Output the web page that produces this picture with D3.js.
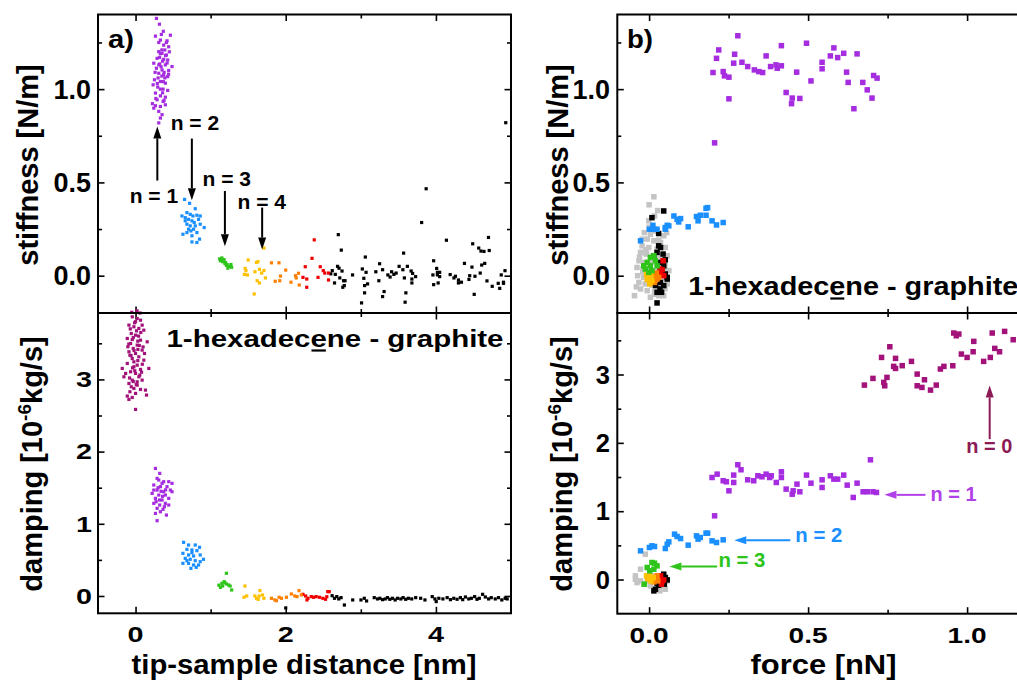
<!DOCTYPE html>
<html><head><meta charset="utf-8">
<script src="https://cdn.jsdelivr.net/npm/d3@7"></script>
<style>
body{margin:0;background:#fff}
svg{display:block}
text{font-family:"Liberation Sans",Arial,sans-serif;font-weight:bold}
</style>
</head><body>
<svg id="c" width="1017" height="681"></svg>
<script>
// ---------------- DATA ----------------
// tick values
const distTicks = [0, 2, 4];
const distMinor = [1, 3];
const stiffTicks = [0, 0.5, 1.0];
const stiffMinor = [0.25, 0.75, 1.25];
const dampTicks = [0, 1, 2, 3];
const dampMinor = [0.5, 1.5, 2.5, 3.5];
const forceTicks = [0, 0.5, 1.0];
const forceMinor = [0.25, 0.75];

// a) stiffness vs tip-sample distance
const stiffDistN1 = [[0.278,1.379],[0.318,1.348],[0.265,1.284],[0.344,1.293],[0.464,1.289],[0.331,1.263],[0.42,1.259],[0.375,1.236],[0.441,1.227],[0.309,1.201],[0.353,1.192],[0.411,1.183],[0.287,1.165],[0.375,1.16],[0.428,1.156],[0.243,1.139],[0.322,1.135],[0.397,1.13],[0.486,1.121],[0.278,1.112],[0.353,1.103],[0.441,1.10],[0.309,1.085],[0.375,1.076],[0.428,1.067],[0.252,1.05],[0.331,1.041],[0.397,1.032],[0.234,1.023],[0.296,1.011],[0.367,1.0],[0.428,0.993],[0.265,0.979],[0.331,0.964],[0.397,0.957],[0.287,0.943],[0.367,0.934],[0.225,0.922],[0.265,0.911],[0.331,0.907],[0.397,0.916],[0.243,0.898],[0.309,0.881],[0.353,0.863],[0.331,0.845],[0.309,0.819],[0.36,1.15],[0.34,1.12],[0.38,1.09],[0.30,1.06],[0.40,1.18],[0.35,1.21],[0.32,1.17],[0.42,1.14],[0.29,1.03],[0.36,0.98],[0.39,1.06],[0.33,1.00],[0.27,0.95],[0.41,1.25],[0.37,1.31],[0.44,1.08],[0.26,1.09],[0.31,1.25],[0.38,0.94],[0.45,1.20],[0.35,1.07],[0.31,1.13],[0.39,1.21],[0.33,1.19],[0.37,1.04]];
const stiffDistN2 = [[0.653,0.409],[0.72,0.388],[0.795,0.359],[0.684,0.338],[0.728,0.329],[0.764,0.32],[0.817,0.324],[0.662,0.311],[0.706,0.302],[0.751,0.294],[0.781,0.285],[0.839,0.302],[0.861,0.276],[0.914,0.258],[0.684,0.276],[0.728,0.267],[0.773,0.249],[0.631,0.222],[0.684,0.231],[0.751,0.214],[0.817,0.231],[0.852,0.196],[0.751,0.181],[0.706,0.249],[0.795,0.267],[0.737,0.24],[0.662,0.294],[0.861,0.32],[0.618,0.32],[0.817,0.178]];
const stiffDistN3 = [[1.12,0.09],[1.15,0.095],[1.18,0.085],[1.13,0.08],[1.16,0.075],[1.2,0.07],[1.22,0.06],[1.25,0.05],[1.28,0.045],[1.23,0.04],[1.19,0.065],[1.27,0.06],[1.17,0.085],[1.21,0.055]];
const stiffDistN4 = [[1.71,0.148],[1.50,0.084],[1.61,0.071],[1.63,0.075],[1.46,0.039],[1.47,0.027],[1.59,0.021],[1.65,0.034],[1.71,0.028],[1.68,0.014],[1.45,0.007],[1.49,0.004],[1.62,-0.027],[1.65,-0.039],[1.73,-0.012],[1.58,-0.098]];
const stiffDistN5 = [[1.81,0.069],[1.91,0.069],[2.0,0.03],[1.93,-0.002],[1.92,-0.027],[1.86,-0.03],[2.07,-0.035],[2.13,0.0],[2.17,0.013],[2.14,-0.012],[2.18,-0.05]];
const stiffDistN6 = [[2.38,0.192],[2.35,0.093],[2.26,0.048],[2.23,-0.009],[2.28,-0.018],[2.28,-0.062],[2.43,-0.009],[2.46,0.048],[2.50,0.027],[2.52,0.014],[2.57,0.014],[2.57,-0.023]];
const stiffDistBulk = [[2.70,0.22],[2.74,0.137],[2.69,0.05],[2.71,0.04],[2.62,0.027],[2.66,0.007],[2.75,0.025],[2.60,0.01],[2.72,-0.012],[2.65,-0.039],[2.77,-0.027],[2.79,-0.027],[2.78,-0.053],[2.76,-0.062],[2.89,0.004],[3.06,0.10],[3.02,0.036],[3.07,0.018],[3.04,-0.014],[3.05,-0.053],[3.09,-0.044],[3.05,-0.092],[3.01,-0.146],[3.25,0.064],[3.29,0.032],[3.20,0.021],[3.24,-0.027],[3.31,-0.085],[3.29,-0.112],[3.36,0.004],[3.39,-0.007],[3.41,0.021],[3.44,0.007],[3.47,0.014],[3.51,0.05],[3.56,0.032],[3.57,0.121],[3.62,0.05],[3.58,-0.012],[3.67,0.025],[3.69,0.012],[3.68,-0.018],[3.73,-0.005],[3.68,-0.039],[3.60,-0.092],[3.59,-0.142],[3.81,0.285],[3.87,0.466],[3.97,0.08],[4.01,0.039],[4.02,0.018],[4.05,0.018],[4.02,0.004],[3.96,0.004],[4.05,-0.005],[3.97,-0.048],[4.03,-0.039],[4.14,0.19],[4.19,0.006],[4.24,-0.012],[4.26,-0.003],[4.30,-0.023],[4.30,-0.039],[4.34,-0.035],[4.38,0.066],[4.45,0.0],[4.48,0.046],[4.52,-0.003],[4.44,-0.02],[4.51,-0.1],[4.49,0.171],[4.57,0.148],[4.60,0.132],[4.64,0.13],[4.65,0.066],[4.61,0.057],[4.59,0.014],[4.70,0.205],[4.71,0.135],[4.68,-0.028],[4.75,-0.057],[4.83,-0.041],[4.85,-0.068],[4.90,-0.041],[4.90,-0.035],[4.87,0.004],[4.92,0.027],[4.93,0.82]];

// a) damping vs tip-sample distance
const dampDistN0 = [[-0.044,3.867],[0.022,3.844],[0.066,3.821],[-0.088,3.752],[-0.022,3.729],[0.044,3.706],[0.11,3.682],[-0.057,3.636],[0,3.613],[-0.11,3.567],[0.066,3.544],[0.155,3.521],[-0.066,3.498],[0.022,3.475],[-0.031,3.429],[0.088,3.406],[-0.088,3.383],[0,3.359],[0.044,3.313],[-0.044,3.29],[0.11,3.267],[-0.11,3.221],[0.022,3.198],[-0.022,3.175],[-0.177,3.152],[0.066,3.138],[0.177,3.152],[-0.066,3.106],[0,3.083],[-0.155,3.036],[0.044,3.036],[-0.044,2.99],[0.088,2.99],[-0.088,2.944],[0.022,2.921],[-0.022,2.875],[0.066,2.861],[0.132,2.852],[-0.075,2.829],[0,2.806],[-0.11,2.769],[-0.044,2.75],[0.146,2.783],[-0.088,2.723],[0.022,2.967],[-0.132,3.083],[-0.022,3.244],[-0.075,3.336],[0.031,3.415],[-0.044,3.553],[0.013,3.673],[0.088,3.752],[-0.013,3.784],[-0.102,3.452],[0.119,3.359],[0.057,3.06],[-0.057,2.898],[0,2.584],[-0.05,3.93],[0.02,3.95],[0.06,3.92],[-0.03,3.58],[0.05,3.47],[-0.06,3.33],[0.03,3.26],[-0.01,3.12],[0.07,3.65],[-0.08,3.02],[0.01,2.93],[0.09,3.21],[-0.02,3.40],[0.04,3.60],[-0.07,3.70],[0.08,3.10],[-0.04,3.16],[0.03,3.53],[-0.09,3.49],[0.10,3.45],[0.0,3.80],[-0.03,2.97]];
const dampDistN1 = [[0.265,1.767],[0.322,1.698],[0.287,1.629],[0.375,1.583],[0.442,1.583],[0.486,1.56],[0.243,1.537],[0.331,1.514],[0.419,1.514],[0.287,1.467],[0.375,1.444],[0.464,1.467],[0.221,1.421],[0.309,1.398],[0.397,1.398],[0.265,1.352],[0.353,1.329],[0.442,1.352],[0.243,1.283],[0.322,1.26],[0.397,1.283],[0.287,1.214],[0.366,1.2],[0.265,1.144],[0.331,1.167],[0.411,1.121],[0.287,1.043],[0.486,1.444],[0.243,1.467],[0.353,1.56],[0.309,1.606],[0.384,1.237],[0.274,1.306],[0.442,1.26],[0.34,1.45],[0.30,1.50],[0.36,1.38],[0.40,1.47],[0.32,1.33]];
const dampDistN2 = [[0.64,0.743],[0.706,0.706],[0.795,0.706],[0.852,0.674],[0.684,0.646],[0.751,0.637],[0.817,0.628],[0.631,0.591],[0.706,0.568],[0.773,0.554],[0.861,0.568],[0.662,0.521],[0.728,0.508],[0.795,0.489],[0.905,0.508],[0.631,0.452],[0.706,0.452],[0.773,0.429],[0.839,0.429],[0.737,0.383],[0.808,0.397],[0.684,0.489],[0.751,0.6],[0.861,0.475]];
const dampDistN3 = [[1.21,0.314],[1.15,0.176],[1.18,0.198],[1.21,0.166],[1.24,0.152],[1.26,0.138],[1.16,0.138],[1.28,0.083],[1.19,0.184],[1.11,0.15],[1.13,0.12]];
const dampDistN4 = [[1.457,0.138],[1.444,-0.018],[1.48,0.0],[1.589,0.0],[1.611,-0.032],[1.656,0.074],[1.647,0.0],[1.691,0.014],[1.709,-0.032],[1.634,-0.046]];
const dampDistN5 = [[1.81,-0.032],[1.854,-0.055],[1.876,-0.065],[1.912,-0.018],[1.943,-0.032],[2.009,-0.018],[2.075,0.028],[2.12,0.0],[2.15,-0.009],[2.177,0.074],[2.208,0.014]];
const dampDistN6 = [[2.229,0.023],[2.265,0.0],[2.296,-0.032],[2.34,-0.009],[2.371,-0.018],[2.406,-0.009],[2.45,-0.018],[2.494,-0.032],[2.53,-0.046],[2.56,0.06],[2.283,-0.055],[2.547,-0.01],[2.58,0.06]];
const dampDistBulk = [[2.618,0.004],[2.649,-0.032],[2.68,-0.009],[2.706,-0.041],[2.737,-0.023],[2.781,-0.125],[2.892,-0.055],[3.002,-0.055],[3.046,-0.032],[3.077,-0.069],[3.179,-0.023],[3.223,-0.041],[3.254,-0.032],[3.289,-0.051],[3.325,-0.041],[3.355,-0.023],[3.386,-0.046],[3.422,-0.032],[3.457,-0.055],[3.488,-0.032],[3.532,-0.041],[3.563,-0.023],[3.598,-0.046],[3.633,-0.032],[3.678,-0.041],[3.731,-0.023],[3.797,-0.032],[3.854,-0.055],[3.951,-0.009],[3.987,-0.041],[4.004,-0.078],[4.039,-0.032],[4.093,-0.041],[4.15,-0.023],[4.194,-0.051],[4.238,-0.032],[4.282,-0.046],[4.326,-0.023],[4.357,-0.051],[4.393,-0.014],[4.437,-0.041],[4.472,-0.032],[4.516,-0.009],[4.547,-0.046],[4.578,-0.032],[4.622,0.023],[4.658,-0.014],[4.702,-0.041],[4.737,-0.023],[4.79,-0.041],[4.834,-0.023],[4.878,-0.055],[4.922,-0.032],[4.949,-0.041],[2.0,-0.166]];

// b) stiffness vs force
const stiffForceN1 = [[0.279,1.286],[0.219,1.21],[0.212,1.165],[0.269,1.187],[0.201,1.089],[0.233,1.094],[0.237,1.071],[0.251,1.064],[0.266,1.139],[0.292,1.144],[0.31,1.121],[0.331,1.103],[0.345,1.094],[0.357,1.089],[0.368,1.178],[0.382,1.121],[0.399,1.13],[0.403,1.112],[0.416,1.125],[0.416,1.233],[0.431,0.982],[0.45,0.952],[0.448,0.922],[0.464,1.091],[0.474,0.95],[0.495,1.246],[0.509,1.044],[0.544,1.144],[0.544,1.109],[0.57,1.178],[0.581,1.221],[0.593,1.169],[0.612,1.192],[0.621,1.091],[0.626,1.036],[0.644,0.895],[0.654,1.189],[0.672,1.036],[0.686,0.996],[0.701,0.952],[0.706,1.073],[0.717,1.059],[0.251,0.948],[0.206,0.712]];
const stiffForceN2 = [[-0.027,0.187],[0.001,0.249],[0.012,0.27],[0.015,0.249],[0.025,0.249],[0.051,0.258],[0.057,0.27],[0.062,0.267],[0.051,0.249],[0.078,0.32],[0.088,0.302],[0.093,0.288],[0.099,0.306],[0.123,0.262],[0.149,0.317],[0.154,0.294],[0.161,0.324],[0.179,0.361],[0.184,0.365],[0.179,0.324],[0.198,0.294],[0.212,0.272],[0.233,0.285]];
const stiffForceGray = [[0.015,0.423],[0.027,0.349],[0.017,0.32],[-0.001,0.294],[-0.015,0.231],[0.004,0.222],[0.046,0.214],[-0.006,0.196],[0.015,0.187],[0.036,0.178],[-0.022,0.16],[-0.001,0.151],[0.025,0.142],[0.051,0.151],[-0.027,0.125],[-0.008,0.116],[0.013,0.107],[0.034,0.107],[0.057,0.107],[-0.032,0.08],[-0.015,0.071],[0.006,0.071],[0.03,0.062],[0.051,0.071],[-0.038,0.044],[-0.019,0.036],[0.002,0.032],[0.025,0.027],[0.046,0.032],[0.062,0.027],[-0.036,0.0],[-0.017,-0.009],[0.004,-0.009],[0.027,-0.014],[0.051,-0.009],[-0.032,-0.036],[-0.012,-0.044],[0.009,-0.05],[0.034,-0.05],[0.057,-0.044],[-0.027,-0.071],[-0.006,-0.08],[0.017,-0.085],[0.041,-0.08],[-0.046,-0.107],[0.004,-0.116],[0.03,-0.107],[0.046,-0.107],[0.055,0.231],[-0.022,0.196],[0.0,0.26],[0.02,0.24],[-0.01,0.14],[0.03,0.19],[-0.03,0.10],[0.04,0.09],[-0.02,0.02],[0.05,0.05],[0.01,-0.03],[-0.04,-0.06],[0.02,-0.10],[0.05,-0.07],[-0.01,0.12],[0.0,0.38],[0.035,0.03]];
const stiffForceBulk = [[0.009,0.311],[0.046,0.347],[0.03,0.226],[0.036,0.151],[0.044,0.116],[0.051,0.085],[0.025,0.125],[0.046,0.053],[0.057,-0.009],[0.036,-0.036],[0.02,-0.053],[0.046,-0.053],[0.025,-0.089],[0.025,-0.146],[0.041,0.018],[0.015,0.107],[0.034,0.071],[0.051,0.009],[0.017,-0.027],[0.034,-0.071],[0.039,-0.089],[0.057,-0.018],[0.03,0.16]];
const stiffForceN3 = [[0.004,0.098],[0.015,0.107],[-0.006,0.071],[-0.017,0.053],[0.004,0.053],[0.02,0.08],[0.009,0.027],[-0.012,0.036],[-0.001,0.018],[0.025,0.053]];
const stiffForceN4 = [[-0.008,0.009],[-0.001,-0.009],[0.006,0.004],[-0.006,-0.021],[0.009,-0.027],[0.002,-0.044]];
const stiffForceN5 = [[0.02,0.0],[0.025,-0.018],[0.017,-0.036],[0.03,-0.009],[0.023,0.014]];
const stiffForceN6 = [[0.044,0.08],[0.034,0.036],[0.041,0.032],[0.046,0.0],[0.036,0.009]];

// b) damping vs force
const dampForceN0 = [[0.677,2.845],[0.704,2.943],[0.738,2.885],[0.741,2.835],[0.731,3.25],[0.757,3.406],[0.775,3.236],[0.775,3.089],[0.769,3.119],[0.748,2.958],[0.796,3.129],[0.825,3.192],[0.843,3.006],[0.843,2.835],[0.858,2.811],[0.866,2.923],[0.885,2.772],[0.903,2.845],[0.916,3.08],[0.927,3.119],[0.955,3.128],[0.958,3.607],[0.966,3.567],[0.974,3.592],[0.982,3.299],[1.0,3.25],[1.019,3.333],[1.021,3.485],[1.052,3.192],[1.073,3.25],[1.079,3.607],[1.087,3.382],[1.102,3.333],[1.118,3.631],[1.145,3.509]];
const dampForceN1 = [[0.206,0.932],[0.198,1.493],[0.214,1.542],[0.233,1.445],[0.251,1.298],[0.243,1.43],[0.266,1.42],[0.266,1.528],[0.279,1.679],[0.289,1.606],[0.31,1.459],[0.329,1.445],[0.342,1.518],[0.355,1.503],[0.368,1.542],[0.379,1.493],[0.384,1.518],[0.4,1.42],[0.416,1.576],[0.416,1.493],[0.431,1.323],[0.45,1.249],[0.453,1.298],[0.465,1.396],[0.474,1.284],[0.495,1.528],[0.509,1.41],[0.544,1.347],[0.544,1.459],[0.57,1.518],[0.581,1.469],[0.593,1.469],[0.612,1.528],[0.623,1.381],[0.642,1.201],[0.654,1.41],[0.673,1.284],[0.686,1.284],[0.696,1.752],[0.704,1.284],[0.715,1.274]];
const dampForceN2 = [[-0.027,0.42],[0.001,0.469],[0.009,0.493],[0.017,0.483],[0.051,0.454],[0.057,0.517],[0.062,0.551],[0.08,0.664],[0.088,0.63],[0.099,0.6],[0.123,0.503],[0.149,0.639],[0.154,0.591],[0.161,0.615],[0.179,0.678],[0.184,0.678],[0.198,0.566],[0.212,0.542],[0.233,0.581]];
const dampForceGray = [[-0.012,0.371],[-0.027,0.151],[-0.043,0.005],[-0.027,-0.02],[-0.006,-0.02],[0.015,-0.02],[0.025,0.005],[0.036,-0.044],[0.057,-0.02],[-0.038,-0.044],[-0.017,-0.068],[0.046,-0.093],[0.025,-0.117],[0.004,-0.093],[0.034,-0.166],[0.051,-0.142],[-0.043,0.054],[0.009,0.054]];
const dampForceBulk = [[0.046,0.078],[0.051,0.029],[0.057,-0.005],[0.041,-0.044],[0.03,-0.083],[0.02,-0.142],[0.015,-0.166],[0.048,-0.068],[0.036,-0.005],[0.025,-0.054]];
const dampForceN3 = [[-0.006,0.176],[0.009,0.249],[0.017,0.239],[0.002,0.127],[0.025,0.2],[-0.015,-0.068],[0.015,0.151]];
const dampForceN4 = [[-0.008,0.054],[0.002,0.054],[0.013,0.029],[-0.004,0.005],[0.006,-0.02]];
const dampForceN5 = [[0.02,0.015],[0.027,-0.02],[0.015,-0.034],[0.025,0.054]];
const dampForceN6 = [[0.034,0.029],[0.041,-0.02],[0.046,-0.005],[0.039,-0.068],[0.036,0.054]];

// ---------------- DRAWING ----------------
const C = {
  n0: "#a3127a", n1: "#a62ce0", n2: "#1a8fff", n3: "#2ec41a",
  n4: "#ffc000", n5: "#ff8000", n6: "#ee0000", bulk: "#000000", gray: "#c4c4c4"
};
const svg = d3.select("#c");

function makePanel(x0, x1, y0, y1, xd, yd) {
  return { x0, x1, y0, y1,
    x: d3.scaleLinear().domain(xd).range([x0, x1]),
    y: d3.scaleLinear().domain(yd).range([y1, y0]) };
}
const pA1 = makePanel(98, 511, 14.5, 313, [-0.5, 5], [-0.2, 1.4]);
const pA2 = makePanel(98, 511, 313, 613.3, [-0.5, 5], [-0.24, 3.92]);
const pB1 = makePanel(617.3, 1030.7, 14.5, 313, [-0.1, 1.2], [-0.2, 1.4]);
const pB2 = makePanel(617.3, 1030.7, 313, 613.7, [-0.1, 1.2], [-0.5, 3.9]);

function ticks(p, xMaj, xMin, yMaj, yMin) {
  const g = svg.append("g");
  const specs = [
    [d3.axisBottom(p.x), `translate(0,${p.y1})`, xMaj, xMin],
    [d3.axisTop(p.x), `translate(0,${p.y0})`, xMaj, xMin],
    [d3.axisLeft(p.y), `translate(${p.x0},0)`, yMaj, yMin],
    [d3.axisRight(p.y), `translate(${p.x1},0)`, yMaj, yMin]
  ];
  specs.forEach(([ax, tr, maj, min]) => {
    g.append("g").attr("transform", tr)
      .call(ax.tickValues(maj).tickSize(-6.5).tickFormat(""));
    g.append("g").attr("transform", tr)
      .call(ax.tickValues(min).tickSize(-4).tickFormat(""));
  });
  g.selectAll(".domain").remove();
  g.selectAll(".tick line").attr("stroke", "#000").attr("stroke-width", 1.6);
}
function frame(p) {
  svg.append("rect").attr("x", p.x0).attr("y", p.y0)
    .attr("width", p.x1 - p.x0).attr("height", p.y1 - p.y0)
    .attr("fill", "none").attr("stroke", "#000").attr("stroke-width", 2);
}
function points(p, data, color, size) {
  svg.append("g").selectAll("rect").data(data).join("rect")
    .attr("x", d => p.x(d[0]) - size / 2).attr("y", d => p.y(d[1]) - size / 2)
    .attr("width", size).attr("height", size).attr("fill", color);
}
function yLabels(p, vals, fmt, fs, xRight, tl) {
  const t = svg.append("g").selectAll("text").data(vals).join("text")
    .attr("x", xRight).attr("y", d => p.y(d) + fs * 0.358)
    .attr("text-anchor", "end").attr("font-size", fs).text(d => d3.format(fmt)(d));
  if (tl) t.attr("textLength", d => tl * d3.format(fmt)(d).length).attr("lengthAdjust", "spacingAndGlyphs");
}
function xLabels(p, vals, fmt, fs, base, tl) {
  const t = svg.append("g").selectAll("text").data(vals).join("text")
    .attr("x", d => p.x(d)).attr("y", base)
    .attr("text-anchor", "middle").attr("font-size", fs).text(d => d3.format(fmt)(d));
  if (tl) t.attr("textLength", tl).attr("lengthAdjust", "spacingAndGlyphs");
}
function arrow(p, from, to, color) {
  const x1 = p.x(from[0]), y1 = p.y(from[1]), x2 = p.x(to[0]), y2 = p.y(to[1]);
  const ang = Math.atan2(y2 - y1, x2 - x1), L = 12, W = 4;
  const bx = x2 - L * Math.cos(ang), by = y2 - L * Math.sin(ang);
  svg.append("line").attr("x1", x1).attr("y1", y1).attr("x2", bx).attr("y2", by)
    .attr("stroke", color).attr("stroke-width", 2);
  const nx = -Math.sin(ang) * W, ny = Math.cos(ang) * W;
  svg.append("polygon").attr("points",
    `${x2},${y2} ${bx + nx},${by + ny} ${bx - nx},${by - ny}`).attr("fill", color);
}
function label(p, at, txt, color, fs, anchor, tl) {
  const t = svg.append("text").attr("x", p.x(at[0])).attr("y", p.y(at[1]))
    .attr("font-size", fs).attr("fill", color).attr("text-anchor", anchor).text(txt);
  if (tl) t.attr("textLength", tl).attr("lengthAdjust", "spacingAndGlyphs");
}

// ticks
ticks(pA1, distTicks, distMinor, stiffTicks, stiffMinor);
ticks(pA2, distTicks, distMinor, dampTicks, dampMinor);
ticks(pB1, forceTicks, forceMinor, stiffTicks, stiffMinor);
ticks(pB2, forceTicks, forceMinor, dampTicks, dampMinor);

// panel a) points
points(pA1, stiffDistBulk, C.bulk, 3.2);
points(pA1, stiffDistN6, C.n6, 3.2);
points(pA1, stiffDistN5, C.n5, 3.2);
points(pA1, stiffDistN4, C.n4, 3.2);
points(pA1, stiffDistN3, C.n3, 3.2);
points(pA1, stiffDistN2, C.n2, 3.2);
points(pA1, stiffDistN1, C.n1, 3.2);

points(pA2, dampDistBulk, C.bulk, 3.2);
points(pA2, dampDistN6, C.n6, 3.2);
points(pA2, dampDistN5, C.n5, 3.2);
points(pA2, dampDistN4, C.n4, 3.2);
points(pA2, dampDistN3, C.n3, 3.2);
points(pA2, dampDistN2, C.n2, 3.2);
points(pA2, dampDistN1, C.n1, 3.2);
points(pA2, dampDistN0, C.n0, 3.2);

// panel b) points
points(pB1, stiffForceGray, C.gray, 5.5);
points(pB1, stiffForceBulk, C.bulk, 5.5);
points(pB1, stiffForceN6, C.n6, 5.5);
points(pB1, stiffForceN5, C.n5, 5.5);
points(pB1, stiffForceN4, C.n4, 5.5);
points(pB1, stiffForceN3, C.n3, 5.5);
points(pB1, stiffForceN2, C.n2, 5.5);
points(pB1, stiffForceN1, C.n1, 5.5);

points(pB2, dampForceGray, C.gray, 5.5);
points(pB2, dampForceBulk, C.bulk, 5.5);
points(pB2, dampForceN6, C.n6, 5.5);
points(pB2, dampForceN5, C.n5, 5.5);
points(pB2, dampForceN4, C.n4, 5.5);
points(pB2, dampForceN3, C.n3, 5.5);
points(pB2, dampForceN2, C.n2, 5.5);
points(pB2, dampForceN1, C.n1, 5.5);
points(pB2, dampForceN0, C.n0, 5.5);

// frames
[pA1, pA2, pB1, pB2].forEach(frame);

// tick labels
yLabels(pA1, stiffTicks, ".1f", 27, 91);
yLabels(pA2, dampTicks, "d", 22, 92, 16);
xLabels(pA2, distTicks, "d", 22, 641.5, 16);
yLabels(pB1, stiffTicks, ".1f", 27, 610);
yLabels(pB2, dampTicks, "d", 25.5, 610);
xLabels(pB2, forceTicks, ".1f", 22, 643, 39);

// axis titles
svg.append("text").attr("transform", "translate(38,165) rotate(-90)")
  .attr("text-anchor", "middle").attr("font-size", 29).text("stiffness [N/m]");
svg.append("text").attr("transform", "translate(568,165) rotate(-90)")
  .attr("text-anchor", "middle").attr("font-size", 29).text("stiffness [N/m]");
function dampTitle(x) {
  const t = svg.append("text").attr("transform", `translate(${x},464) rotate(-90)`)
    .attr("text-anchor", "middle").attr("font-size", 29);
  t.append("tspan").text("damping [10");
  t.append("tspan").attr("dy", -11).attr("font-size", 19).text("-6");
  t.append("tspan").attr("dy", 11).text("kg/s]");
}
dampTitle(42);
dampTitle(572);
svg.append("text").attr("x", 304).attr("y", 674).attr("text-anchor", "middle")
  .attr("font-size", 28).attr("textLength", 345).attr("lengthAdjust", "spacingAndGlyphs")
  .text("tip-sample distance [nm]");
svg.append("text").attr("x", 823.5).attr("y", 674).attr("text-anchor", "middle")
  .attr("font-size", 28).attr("textLength", 146).attr("lengthAdjust", "spacingAndGlyphs")
  .text("force [nN]");

// panel letters
svg.append("text").attr("x", 108).attr("y", 48).attr("font-size", 25)
  .attr("textLength", 26).attr("lengthAdjust", "spacingAndGlyphs").text("a)");
svg.append("text").attr("x", 627).attr("y", 48).attr("font-size", 25)
  .attr("textLength", 26).attr("lengthAdjust", "spacingAndGlyphs").text("b)");

// sample name with underlined e
function sample(x, y, fs, tl) {
  const t = svg.append("text").attr("x", x).attr("y", y).attr("font-size", fs)
    .attr("textLength", tl).attr("lengthAdjust", "spacingAndGlyphs")
    .text("1-hexadecene - graphite");
  const e = t.node().getExtentOfChar(9);
  svg.append("line").attr("x1", e.x + 1).attr("x2", e.x + e.width - 1)
    .attr("y1", y + 3.5).attr("y2", y + 3.5).attr("stroke", "#000").attr("stroke-width", 2.2);
}
sample(166.5, 347, 23.5, 337);
sample(688.3, 295, 25.5, 330);

// annotations a)
arrow(pA1, [0.29, 0.51], [0.29, 0.80], "#000");
label(pA1, [0.245, 0.39], "n = 1", "#000", 21, "middle");
arrow(pA1, [0.75, 0.735], [0.75, 0.405], "#000");
label(pA1, [0.79, 0.783], "n = 2", "#000", 21, "middle");
arrow(pA1, [1.19, 0.454], [1.19, 0.158], "#000");
label(pA1, [1.215, 0.48], "n = 3", "#000", 21, "middle");
arrow(pA1, [1.686, 0.365], [1.686, 0.14], "#000");
label(pA1, [1.68, 0.36], "n = 4", "#000", 21, "middle");

// annotations b)
arrow(pB2, [1.071, 2.054], [1.071, 2.84], "#8b1a55");
label(pB2, [1.07, 1.849], "n = 0", "#8b1a55", 20, "middle", 46);
arrow(pB2, [0.869, 1.239], [0.74, 1.239], "#b040e8");
label(pB2, [0.885, 1.151], "n = 1", "#b040e8", 20, "start", 46);
arrow(pB2, [0.444, 0.575], [0.268, 0.575], "#1a8fff");
label(pB2, [0.46, 0.55], "n = 2", "#1a8fff", 20, "start", 47);
arrow(pB2, [0.214, 0.19], [0.064, 0.19], "#2ec41a");
label(pB2, [0.218, 0.19], "n = 3", "#2ec41a", 20, "start", 47);
</script>
</body></html>
